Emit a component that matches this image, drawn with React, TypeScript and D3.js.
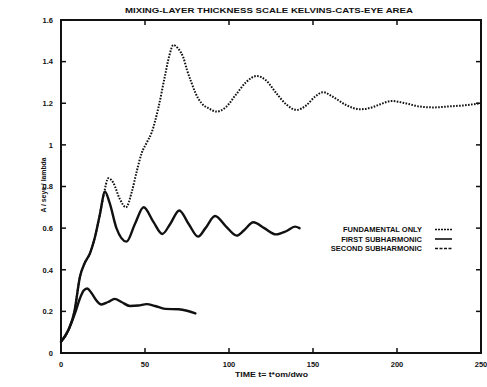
import React from "react";
import { scaleLinear, line, curveMonotoneX } from "d3";

// values
const fundT = [0, 4.4, 8.3, 11.3, 13.5, 15.5, 18, 21, 24, 28, 32, 36, 41, 46, 51, 56, 62, 70, 75, 80];
const fundV = [0.054, 0.11, 0.19, 0.263, 0.3, 0.31, 0.29, 0.253, 0.233, 0.245, 0.26, 0.245, 0.226, 0.228, 0.235, 0.226, 0.212, 0.21, 0.203, 0.19];

const firstT = [0, 4.4, 8, 11.3, 14, 17.3, 20, 23, 26.2, 29, 33, 39, 44, 49.2, 55, 60.3, 65, 70.4, 76, 81.6, 86, 91.7, 98, 104.6, 109, 114.5, 121, 128, 134, 139.3, 142];
const firstV = [0.054, 0.11, 0.2, 0.367, 0.43, 0.48, 0.55, 0.66, 0.775, 0.72, 0.6, 0.535, 0.62, 0.7, 0.63, 0.572, 0.62, 0.685, 0.62, 0.559, 0.6, 0.658, 0.61, 0.564, 0.59, 0.628, 0.6, 0.57, 0.585, 0.607, 0.6];

const secondT = [0, 4.4, 8, 11.3, 14, 17.3, 20, 23, 25.2, 28.2, 31, 35, 38.7, 42, 45, 48, 51, 54, 58, 62, 64.5, 66.9, 70, 72.8, 75, 77.8, 80, 83.7, 88, 92.7, 98, 104, 110, 116.5, 122, 128, 134, 140.3, 146, 151, 156, 162, 170, 178, 185, 190, 196.8, 205, 213.7, 222, 229.6, 240, 250];
const secondV = [0.054, 0.11, 0.2, 0.367, 0.43, 0.48, 0.55, 0.66, 0.75, 0.84, 0.82, 0.74, 0.7, 0.77, 0.87, 0.96, 1.01, 1.06, 1.18, 1.336, 1.43, 1.48, 1.46, 1.42, 1.36, 1.296, 1.25, 1.2, 1.175, 1.16, 1.18, 1.24, 1.3, 1.331, 1.31, 1.25, 1.195, 1.168, 1.19, 1.23, 1.253, 1.23, 1.19, 1.171, 1.18, 1.195, 1.211, 1.2, 1.184, 1.18, 1.184, 1.19, 1.2];

const xTicks = [0, 50, 100, 150, 200, 250];
const yTicks = [0, 0.2, 0.4, 0.6, 0.8, 1, 1.2, 1.4, 1.6];
const seriesNames = ["FUNDAMENTAL ONLY", "FIRST SUBHARMONIC", "SECOND SUBHARMONIC"];

const W = 487, H = 387;
const font = "'Liberation Sans', Arial, sans-serif";

const App = () => {
  const x = scaleLinear().domain([0, 250]).range([61, 481]);
  const y = scaleLinear().domain([0, 1.6]).range([353, 20]);
  const mk = (ts: number[], vs: number[]) =>
    line<number>()
      .x((d, i) => x(ts[i]))
      .y((d) => y(d))
      .curve(curveMonotoneX)(vs) || "";

  const series = [
    { d: mk(fundT, fundV), dash: undefined, w: 2.4, legDash: "2,1" },
    { d: mk(firstT, firstV), dash: undefined, w: 2.4, legDash: undefined },
    { d: mk(secondT, secondV), dash: "1.6,1.4", w: 2, legDash: "3,1.5" },
  ];
  const tk = 5;
  const sw = 2;
  const [x0, x1] = x.range();
  const [y0, y1] = y.range();

  return (
    <svg width={W} height={H} style={{ position: "absolute", left: 0, top: 0, background: "#fff" }}>
      <rect width={W} height={H} fill="#fff" />
      <text x={269} y={12.5} textAnchor="middle" fontFamily={font} fontWeight="bold" fontSize={7.5}
        textLength={288} lengthAdjust="spacingAndGlyphs" fill="#111">
        MIXING-LAYER THICKNESS SCALE  KELVINS-CATS-EYE AREA
      </text>

      {/* frame and ticks drawn as thin filled bars */}
      <g fill="#111">
        <rect x={x0 - sw / 2} y={y1 - sw / 2} width={x1 - x0 + sw} height={sw} />
        <rect x={x0 - sw / 2} y={y0 - sw / 2} width={x1 - x0 + sw} height={sw} />
        <rect x={x0 - sw / 2} y={y1 - sw / 2} width={sw} height={y0 - y1 + sw} />
        <rect x={x1 - sw / 2} y={y1 - sw / 2} width={sw} height={y0 - y1 + sw} />
        {yTicks.map((t) => (
          <g key={"yt" + t}>
            <rect x={x0} y={y(t) - 0.75} width={tk} height={1.5} />
            <rect x={x1 - tk} y={y(t) - 0.75} width={tk} height={1.5} />
          </g>
        ))}
        {xTicks.map((t) => (
          <g key={"xt" + t}>
            <rect x={x(t) - 0.75} y={y0 - tk} width={1.5} height={tk} />
            <rect x={x(t) - 0.75} y={y1} width={1.5} height={tk} />
          </g>
        ))}
      </g>

      {yTicks.map((t) => (
        <text key={"y" + t} x={53} y={y(t) + 2.8} textAnchor="end" fontFamily={font} fontWeight="bold"
          fontSize={7.5} fill="#111">
          {String(t)}
        </text>
      ))}
      {xTicks.map((t) => (
        <text key={"x" + t} x={x(t)} y={367} textAnchor="middle" fontFamily={font} fontWeight="bold"
          fontSize={7.5} fill="#111">
          {String(t)}
        </text>
      ))}

      <text x={271.5} y={376.5} textAnchor="middle" fontFamily={font} fontWeight="bold" fontSize={7.5}
        textLength={73} lengthAdjust="spacingAndGlyphs" fill="#111">
        TIME t= t*om/dwo
      </text>
      <text transform="translate(45.5,185) rotate(-90)" textAnchor="middle" fontFamily={font} fontWeight="bold"
        fontSize={7.5} textLength={55} lengthAdjust="spacingAndGlyphs" fill="#111">
        A / seye / lambda
      </text>

      {series.map((s, i) => (
        <path key={"s" + i} d={s.d} fill="none" stroke="#111" strokeWidth={s.w}
          strokeDasharray={s.dash} strokeLinejoin="round" strokeLinecap={s.dash ? "butt" : "round"} />
      ))}

      {seriesNames.map((n, i) => (
        <g key={n}>
          <text x={422} y={232 + i * 9.5} textAnchor="end" fontFamily={font} fontWeight="bold" fontSize={7.5}
            fill="#111">{n}</text>
          <line x1={435} x2={452} y1={229.5 + i * 9.5} y2={229.5 + i * 9.5} stroke="#111" strokeWidth={1.6}
            strokeDasharray={series[i].legDash} />
        </g>
      ))}
    </svg>
  );
};

export default App;
